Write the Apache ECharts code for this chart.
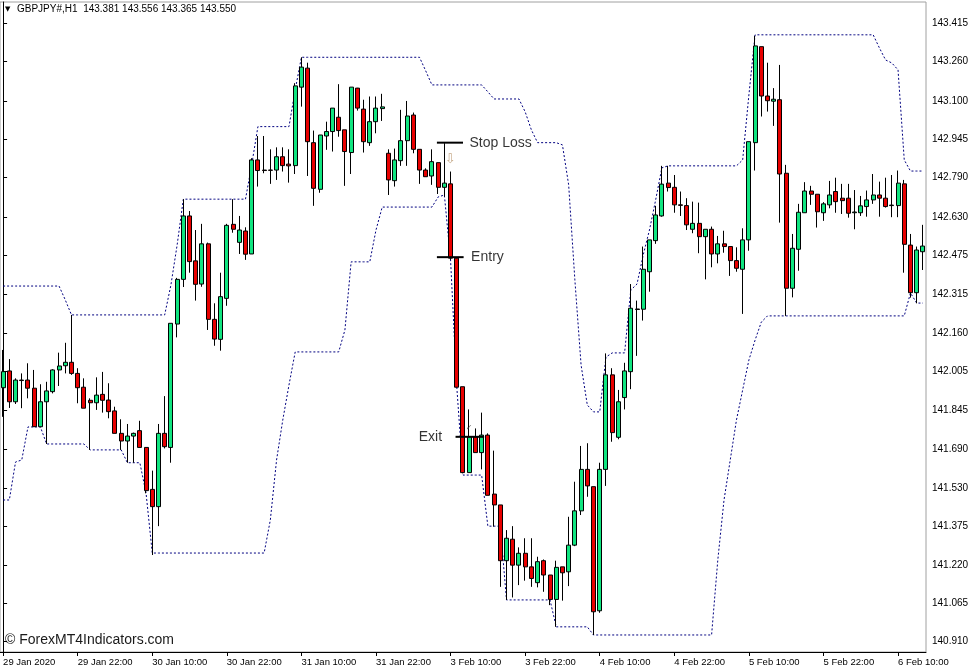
<!DOCTYPE html>
<html><head><meta charset="utf-8">
<script src="https://cdn.jsdelivr.net/npm/echarts@6/dist/echarts.min.js"></script>
<style>html,body{margin:0;padding:0;background:#fff;}#c{width:977px;height:672px;}</style>
</head><body><div id="c"></div>
<script>
const titleText = 'GBPJPY#,H1  143.381 143.556 143.365 143.550';
const watermark = '\u00A9 ForexMT4Indicators.com';
const xTickLabels = ['29 Jan 2020','29 Jan 22:00','30 Jan 10:00','30 Jan 22:00','31 Jan 10:00','31 Jan 22:00','3 Feb 10:00','3 Feb 22:00','4 Feb 10:00','4 Feb 22:00','5 Feb 10:00','5 Feb 22:00','6 Feb 10:00'];
const barsPerLabel = 12;
const yTickLabels = ['143.415','143.260','143.100','142.945','142.790','142.630','142.475','142.315','142.160','142.005','141.845','141.690','141.530','141.375','141.220','141.065','140.910'];

const opens = [141.938,142.006,141.881,141.969,141.969,141.936,141.780,141.881,141.922,142.010,
142.027,142.041,141.996,141.940,141.887,141.877,141.911,141.888,141.844,141.753,
141.722,141.742,141.764,141.696,141.526,141.456,141.753,141.696,142.196,142.377,
142.634,142.452,142.358,142.521,142.215,142.134,142.300,142.600,142.527,142.573,
142.480,142.861,142.820,142.820,142.820,142.874,142.844,142.838,143.156,143.233,
142.931,142.742,142.958,142.976,143.034,142.983,142.891,143.152,143.067,142.931,
143.016,143.069,142.888,142.777,142.858,142.939,143.043,142.904,142.820,142.796,
142.850,142.750,142.764,142.463,141.942,141.594,141.739,141.675,141.746,141.507,
141.463,141.237,141.324,141.219,141.267,141.212,141.148,141.237,141.179,141.080,
141.212,141.192,141.300,141.439,141.607,141.537,141.034,141.607,141.990,141.737,
141.898,142.003,142.257,142.256,142.408,142.534,142.634,142.767,142.750,142.679,
142.676,142.580,142.604,142.550,142.580,142.480,142.521,142.510,142.453,142.418,
142.537,142.931,143.320,143.120,143.099,143.105,142.807,142.341,142.499,142.647,
142.735,142.722,142.647,142.679,142.733,142.706,142.706,142.647,142.647,142.672,
142.699,142.719,142.706,142.676,142.676,142.764,142.516,142.323,142.489];
const closes = [142.003,141.881,141.969,141.967,141.936,141.780,141.881,141.925,142.010,142.026,
142.041,141.996,141.938,141.855,141.877,141.908,141.887,141.841,141.753,141.722,
141.742,141.753,141.696,141.521,141.456,141.753,141.699,142.199,142.377,142.634,
142.449,142.357,142.521,142.215,142.135,142.307,142.596,142.580,142.577,142.479,
142.861,142.818,142.818,142.819,142.874,142.838,142.837,143.161,143.237,142.935,
142.746,142.962,142.976,143.071,142.980,142.895,143.156,143.071,142.935,143.016,
143.071,143.076,142.780,142.861,142.939,143.039,142.904,142.820,142.793,142.854,
142.750,142.767,142.463,141.940,141.594,141.739,141.675,141.746,141.502,141.463,
141.237,141.328,141.219,141.267,141.212,141.165,141.233,141.179,141.080,141.210,
141.188,141.300,141.439,141.607,141.540,141.030,141.607,141.990,141.756,141.881,
142.006,142.260,142.255,142.418,142.537,142.638,142.763,142.749,142.679,142.677,
142.598,142.604,142.550,142.580,142.480,142.521,142.510,142.453,142.422,142.537,
142.935,143.323,143.120,143.101,143.107,142.804,142.341,142.503,142.649,142.735,
142.722,142.651,142.683,142.719,142.692,142.696,142.645,142.650,142.675,142.699,
142.719,142.706,142.672,142.678,142.767,142.519,142.323,142.496,142.512];
const lows = [141.820,141.856,141.872,141.855,141.895,141.780,141.780,141.710,141.915,141.945,
141.996,141.990,141.875,141.855,141.686,141.848,141.837,141.814,141.753,141.686,
141.634,141.634,141.696,141.510,141.260,141.377,141.692,141.634,142.142,142.346,
142.404,142.291,142.347,142.172,142.108,142.088,142.270,142.566,142.480,142.456,
142.480,142.753,142.807,142.764,142.780,142.814,142.769,142.804,143.077,142.796,
142.675,142.728,142.902,142.895,142.955,142.756,142.804,143.061,142.891,142.918,
142.969,143.019,142.719,142.753,142.837,142.837,142.888,142.764,142.793,142.760,
142.723,142.712,142.456,141.940,141.591,141.594,141.675,141.607,141.502,141.375,
141.131,141.078,141.088,141.138,141.156,141.131,141.129,141.111,141.057,140.969,
141.075,141.134,141.296,141.422,141.496,140.936,141.026,141.540,141.719,141.729,
141.850,141.932,142.067,142.210,142.327,142.521,142.631,142.733,142.647,142.634,
142.577,142.564,142.483,142.377,142.426,142.442,142.485,142.391,142.408,142.237,
142.493,142.818,143.037,143.057,142.999,142.607,142.229,142.304,142.412,142.647,
142.679,142.587,142.614,142.665,142.647,142.642,142.627,142.580,142.634,142.631,
142.683,142.631,142.668,142.629,142.629,142.404,142.303,142.280,142.415];
const highs = [142.091,142.054,141.976,141.996,142.037,142.010,141.952,141.962,142.013,142.080,
142.120,142.233,142.017,141.976,141.895,141.980,142.002,141.956,141.861,141.810,
141.791,141.756,141.804,141.696,141.602,141.791,141.904,142.199,142.383,142.702,
142.654,142.577,142.602,142.526,142.280,142.404,142.602,142.702,142.634,142.588,
142.868,142.958,142.958,142.904,142.912,142.912,142.904,143.172,143.277,143.255,
142.980,142.962,143.016,143.071,143.168,142.983,143.156,143.153,143.105,143.118,
143.118,143.129,142.904,142.907,143.064,143.100,143.053,142.904,142.827,142.904,
142.850,142.929,142.814,142.464,141.942,141.850,141.773,141.837,141.753,141.683,
141.463,141.361,141.377,141.291,141.328,141.328,141.253,141.242,141.179,141.237,
141.212,141.415,141.557,141.702,141.713,141.537,141.634,142.077,142.017,141.929,
142.039,142.358,142.291,142.510,142.537,142.675,142.837,142.837,142.800,142.733,
142.706,142.692,142.688,142.580,142.591,142.553,142.574,142.510,142.507,142.584,
142.935,143.364,143.320,143.255,143.152,143.246,142.841,142.561,142.683,142.771,
142.756,142.722,142.690,142.776,142.789,142.764,142.764,142.739,142.715,142.737,
142.804,142.773,142.789,142.800,142.818,142.780,142.561,142.510,142.598];

const upperBand = [142.350,142.350,142.350,142.350,142.350,142.350,142.350,142.350,142.350,142.350,
142.294,142.233,142.233,142.233,142.233,142.233,142.233,142.233,142.233,142.233,
142.233,142.233,142.233,142.233,142.233,142.233,142.233,142.354,142.516,142.702,
142.702,142.702,142.702,142.702,142.702,142.702,142.702,142.702,142.702,142.702,
142.841,142.996,142.996,142.996,142.996,142.996,142.996,143.145,143.277,143.277,
143.277,143.277,143.277,143.277,143.277,143.277,143.277,143.277,143.277,143.277,
143.277,143.277,143.277,143.277,143.277,143.277,143.277,143.277,143.222,143.165,
143.165,143.165,143.165,143.165,143.165,143.165,143.165,143.165,143.137,143.108,
143.108,143.108,143.108,143.108,143.056,142.983,142.931,142.931,142.931,142.931,
142.922,142.760,142.375,142.030,141.868,141.840,141.840,142.062,142.079,142.079,
142.079,142.334,142.358,142.476,142.577,142.699,142.829,142.837,142.837,142.837,
142.837,142.837,142.837,142.837,142.837,142.837,142.837,142.837,142.837,142.861,
143.124,143.368,143.368,143.368,143.368,143.368,143.368,143.368,143.368,143.368,
143.368,143.368,143.368,143.368,143.368,143.368,143.368,143.368,143.368,143.368,
143.368,143.315,143.266,143.254,143.226,142.861,142.816,142.816,142.816];
const lowerBand = [141.483,141.483,141.637,141.645,141.779,141.779,141.779,141.710,141.710,141.710,
141.710,141.710,141.710,141.710,141.686,141.686,141.686,141.686,141.686,141.686,
141.634,141.634,141.634,141.511,141.268,141.268,141.268,141.268,141.268,141.268,
141.268,141.268,141.268,141.268,141.268,141.268,141.268,141.268,141.268,141.268,
141.268,141.268,141.268,141.402,141.645,141.807,141.949,142.083,142.083,142.083,
142.083,142.083,142.083,142.083,142.083,142.172,142.448,142.448,142.448,142.448,
142.577,142.670,142.670,142.670,142.670,142.670,142.670,142.670,142.670,142.670,
142.711,142.719,142.456,141.941,141.584,141.584,141.584,141.584,141.377,141.377,
141.377,141.078,141.078,141.078,141.078,141.078,141.078,141.078,141.078,140.969,
140.969,140.969,140.969,140.969,140.969,140.936,140.936,140.936,140.936,140.936,
140.936,140.936,140.936,140.936,140.936,140.936,140.936,140.936,140.936,140.936,
140.936,140.936,140.936,140.936,140.936,141.240,141.483,141.645,141.807,141.929,
142.050,142.131,142.204,142.229,142.229,142.229,142.229,142.229,142.229,142.229,
142.229,142.229,142.229,142.229,142.229,142.229,142.229,142.229,142.229,142.229,
142.229,142.229,142.229,142.229,142.229,142.229,142.322,142.281,142.281];

// trade annotations: [startBar, endBar, price]
const stopLossLine = [69.8, 74.0, 142.931];
const entryLine = [69.8, 74.1, 142.467];
const exitLine = [72.8, 77.4, 141.739];
const sellArrow = [71.95, 142.861];
const exitMark = [75.0, 141.775];

const FONT = '"Liberation Sans", Arial, sans-serif';
const N = opens.length;
const cats = opens.map((_, i) => String(i));
const candles = opens.map((o, i) => [o, closes[i], lows[i], highs[i]]);
const yTickValues = yTickLabels.map(Number);

const chart = echarts.init(document.getElementById('c'), null, {renderer: 'canvas'});
const blackLine = {color: '#000', width: 2};
function hline(seg) { return [[seg[0], seg[2]], [seg[1], seg[2]]]; }
const txt = {color: '#000', fontSize: 14, fontFamily: FONT};

chart.setOption({
  animation: false,
  backgroundColor: '#fff',
  grid: {left: -0.5, right: 51, top: 2, bottom: 20, show: true, borderColor: '#a0a0a0', borderWidth: 1},
  xAxis: [{
    type: 'category', data: cats, boundaryGap: true,
    axisLine: {show: true, lineStyle: {color: '#000', width: 1}},
    axisTick: {show: true, interval: (i) => i % barsPerLabel === 0, alignWithLabel: true, length: 4, lineStyle: {color: '#000'}},
    axisLabel: {interval: (i) => i % barsPerLabel === 0, formatter: (v, i) => xTickLabels[i / barsPerLabel] || '',
      align: 'left', margin: 5, color: '#000', fontSize: 9.5, fontFamily: FONT},
    splitLine: {show: false}
  }, {
    type: 'value', min: -0.5, max: N - 0.5, show: false
  }],
  yAxis: {
    type: 'value', position: 'right', min: 140.867, max: 143.501,
    axisLine: {show: true, lineStyle: {color: '#000', width: 1}},
    axisTick: {show: true, customValues: yTickValues, length: 4, lineStyle: {color: '#000'}},
    axisLabel: {customValues: yTickValues, formatter: (v) => { const k = yTickValues.indexOf(v); return k >= 0 ? yTickLabels[k] : ''; },
      margin: 6, color: '#000', fontSize: 10, fontFamily: FONT},
    splitLine: {show: false}
  },
  series: [
    {type: 'line', name: 'upper', data: upperBand, xAxisIndex: 0, symbol: 'none', z: 1,
      lineStyle: {color: '#000080', width: 1, type: [2, 2]}},
    {type: 'line', name: 'lower', data: lowerBand, xAxisIndex: 0, symbol: 'none', z: 1,
      lineStyle: {color: '#000080', width: 1, type: [2, 2]}},
    {type: 'candlestick', data: candles, xAxisIndex: 0, barWidth: 4.5, z: 2,
      itemStyle: {color: '#10e580', color0: '#e80000', borderColor: '#000', borderColor0: '#000', borderColorDoji: '#000', borderWidth: 1}},
    {type: 'line', data: hline(stopLossLine), xAxisIndex: 1, symbol: 'none', lineStyle: blackLine, z: 5},
    {type: 'line', data: hline(entryLine), xAxisIndex: 1, symbol: 'none', lineStyle: blackLine, z: 5},
    {type: 'line', data: hline(exitLine), xAxisIndex: 1, symbol: 'none', lineStyle: blackLine, z: 5},
    {type: 'scatter', xAxisIndex: 1, symbol: 'circle', symbolSize: 1, itemStyle: {color: 'rgba(0,0,0,0)'}, z: 6,
      data: [
        {value: [stopLossLine[1], stopLossLine[2]], label: Object.assign({show: true, position: 'right', distance: 6, formatter: 'Stop Loss'}, txt)},
        {value: [entryLine[1], entryLine[2]], label: Object.assign({show: true, position: 'right', distance: 7, formatter: 'Entry'}, txt)},
        {value: [exitLine[0], exitLine[2]], label: Object.assign({show: true, position: 'left', distance: 13, formatter: 'Exit'}, txt)},
        {value: sellArrow, label: {show: true, position: 'inside', formatter: '\u21E9', color: '#b8946a', fontSize: 13, fontFamily: 'DejaVu Sans'}},
        {value: exitMark, label: {show: true, position: 'inside', formatter: '\u2713', color: '#444', fontSize: 8, fontFamily: 'DejaVu Sans'}}
      ]}
  ],
  graphic: [
    {type: 'text', left: 5, top: 6, style: {text: '\u25BC', fill: '#000', fontSize: 7, fontFamily: 'DejaVu Sans'}},
    {type: 'text', left: 17, top: 4, style: {text: titleText, fill: '#000', fontSize: 10, fontFamily: FONT}},
    {type: 'text', left: 5, top: 633, style: {text: watermark, fill: '#1a1a1a', fontSize: 14, fontFamily: FONT}}
  ]
});
</script>
</body></html>
